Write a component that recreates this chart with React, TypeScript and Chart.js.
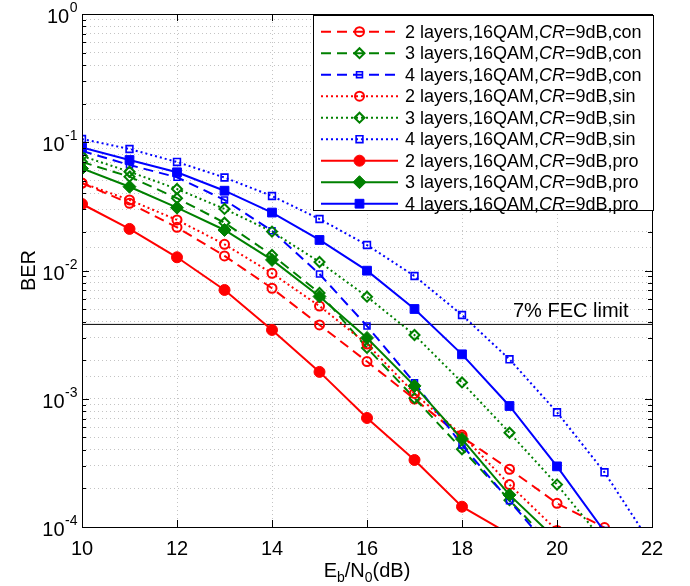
import React, { useEffect, useRef } from 'react';
import { Chart, registerables } from 'chart.js';

Chart.register(...registerables);

// ---- data ----
const snr = [10, 11, 12, 13, 14, 15, 16, 17, 18, 19, 20, 21, 22];

const redCon = [0.048, 0.0334, 0.0217, 0.013, 0.00727, 0.00376, 0.00195, 9.95e-4, 5.03e-4, 2.82e-4, 1.53e-4, 9.9e-5, null];
const greenCon = [0.0702, 0.0539, 0.0366, 0.0236, 0.0132, 0.00668, 0.00249, 1.01e-3, 4.04e-4, 1.62e-4, 6.6e-5, null, null];
const blueCon = [0.0855, 0.0665, 0.0533, 0.0355, 0.0204, 0.00939, 0.00369, 1.33e-3, 4.36e-4, 1.6e-4, 5.9e-5, null, null];
const redSin = [0.0481, 0.0355, 0.0248, 0.016, 0.00951, 0.00528, 0.00267, 1.1e-3, 5.21e-4, 2.14e-4, 9.4e-5, null, null];
const greenSin = [0.0781, 0.0589, 0.0432, 0.0302, 0.0201, 0.01165, 0.00625, 0.00314, 1.34e-3, 5.43e-4, 2.14e-4, 7.6e-5, null];
const blueSin = [0.106, 0.0886, 0.0702, 0.0531, 0.0381, 0.0252, 0.0158, 0.00906, 0.0045, 0.00203, 7.84e-4, 2.67e-4, 7.2e-5];
const redPro = [0.033, 0.0211, 0.01268, 0.00705, 0.00344, 0.00162, 7.08e-4, 3.33e-4, 1.44e-4, 8.8e-5, null, null, null];
const greenPro = [0.0624, 0.045, 0.0309, 0.0207, 0.0121, 0.00627, 0.00298, 1.26e-3, 4.85e-4, 1.78e-4, 7.9e-5, null, null];
const bluePro = [0.091, 0.0727, 0.0583, 0.0419, 0.0283, 0.0173, 0.00997, 0.00501, 0.00222, 8.78e-4, 2.97e-4, 9.2e-5, null];

const seriesLabels = [
  '2 layers,16QAM,CR=9dB,con',
  '3 layers,16QAM,CR=9dB,con',
  '4 layers,16QAM,CR=9dB,con',
  '2 layers,16QAM,CR=9dB,sin',
  '3 layers,16QAM,CR=9dB,sin',
  '4 layers,16QAM,CR=9dB,sin',
  '2 layers,16QAM,CR=9dB,pro',
  '3 layers,16QAM,CR=9dB,pro',
  '4 layers,16QAM,CR=9dB,pro',
];
const seriesValues = [redCon, greenCon, blueCon, redSin, greenSin, blueSin, redPro, greenPro, bluePro];

const xTickValues = [10, 12, 14, 16, 18, 20, 22];
const yDecades = [1e-4, 1e-3, 1e-2, 1e-1, 1];
const yDecadeExponents = ['-4', '-3', '-2', '-1', '0'];
const fecLimit = 0.0038;
const fecLabel = '7% FEC limit';
const yTitle = 'BER';

// ---- styles ----
const RED = '#ff0000';
const GREEN = '#008000';
const BLUE = '#0000ff';
const FONT = '"Liberation Sans", Arial, Helvetica, sans-serif';
const DASHED = [10, 6];
const DOTTED = [2, 3];
const CLEAR = 'rgba(0,0,0,0)';

type Style = { color: string; dash: number[]; marker: string; radius: number; filled: boolean; mlw: number };
const seriesStyles: Style[] = [
  { color: RED, dash: DASHED, marker: 'circle', radius: 4.5, filled: false, mlw: 2 },
  { color: GREEN, dash: DASHED, marker: 'rectRot', radius: 5, filled: false, mlw: 2 },
  { color: BLUE, dash: DASHED, marker: 'rect', radius: 4.2, filled: false, mlw: 1.6 },
  { color: RED, dash: DOTTED, marker: 'circle', radius: 4.5, filled: false, mlw: 2 },
  { color: GREEN, dash: DOTTED, marker: 'rectRot', radius: 5, filled: false, mlw: 2 },
  { color: BLUE, dash: DOTTED, marker: 'rect', radius: 4.8, filled: false, mlw: 1.6 },
  { color: RED, dash: [], marker: 'circle', radius: 5.5, filled: true, mlw: 1 },
  { color: GREEN, dash: [], marker: 'rectRot', radius: 6.5, filled: true, mlw: 1 },
  { color: BLUE, dash: [], marker: 'rect', radius: 6.2, filled: true, mlw: 1 },
];

function drawMarker(ctx: CanvasRenderingContext2D, s: Style, x: number, y: number) {
  const r = s.radius;
  ctx.beginPath();
  if (s.marker === 'circle') ctx.arc(x, y, r, 0, Math.PI * 2);
  else if (s.marker === 'rect') {
    const h = Math.SQRT1_2 * r;
    ctx.rect(x - h, y - h, 2 * h, 2 * h);
  } else {
    ctx.moveTo(x - r, y);
    ctx.lineTo(x, y - r);
    ctx.lineTo(x + r, y);
    ctx.lineTo(x, y + r);
    ctx.closePath();
  }
  ctx.setLineDash([]);
  if (s.filled) {
    ctx.fillStyle = s.color;
    ctx.fill();
  }
  ctx.lineWidth = s.mlw;
  ctx.strokeStyle = s.color;
  ctx.stroke();
}

const decorPlugin = {
  id: 'decor',
  afterDraw(chart: any) {
    const ctx: CanvasRenderingContext2D = chart.ctx;
    const xs = chart.scales.x;
    const ys = chart.scales.y;
    const { left, right, top, bottom } = chart.chartArea;
    ctx.save();
    ctx.setLineDash([]);
    ctx.strokeStyle = '#000';
    ctx.lineWidth = 1;

    // tick marks (inward)
    ctx.beginPath();
    for (let d = 0; d < yDecades.length; d++) {
      for (let m = 1; m <= 9; m++) {
        const v = yDecades[d] * m;
        if (v > 1.0000001) break;
        const y = Math.round(ys.getPixelForValue(v)) + 0.5;
        const len = m === 1 ? 7 : 4;
        ctx.moveTo(left, y);
        ctx.lineTo(left + len, y);
        ctx.moveTo(right, y);
        ctx.lineTo(right - len, y);
      }
    }
    for (const t of xTickValues) {
      const x = Math.round(xs.getPixelForValue(t)) + 0.5;
      ctx.moveTo(x, bottom);
      ctx.lineTo(x, bottom - 7);
      ctx.moveTo(x, top);
      ctx.lineTo(x, top + 7);
    }
    ctx.stroke();

    // frame
    ctx.strokeRect(Math.round(left) + 0.5, Math.round(top) + 0.5, Math.round(right - left), Math.round(bottom - top));

    ctx.fillStyle = '#000';
    // x tick labels
    ctx.font = `20px ${FONT}`;
    ctx.textAlign = 'center';
    ctx.textBaseline = 'alphabetic';
    for (const t of xTickValues) {
      ctx.fillText(String(t), xs.getPixelForValue(t), 555);
    }

    // y tick labels with superscript
    for (let i = 0; i < yDecades.length; i++) {
      const y = ys.getPixelForValue(yDecades[i]);
      ctx.font = `20px ${FONT}`;
      const w1 = ctx.measureText('10').width;
      ctx.font = `14px ${FONT}`;
      const w2 = ctx.measureText(yDecadeExponents[i]).width;
      const x0 = 77 - w1 - w2;
      ctx.textAlign = 'left';
      ctx.font = `20px ${FONT}`;
      ctx.fillText('10', x0, y + 9);
      ctx.font = `14px ${FONT}`;
      ctx.fillText(yDecadeExponents[i], x0 + w1 + 0.5, y - 2);
    }

    // y title
    ctx.save();
    ctx.translate(35, (top + bottom) / 2);
    ctx.rotate(-Math.PI / 2);
    ctx.font = `20px ${FONT}`;
    ctx.textAlign = 'center';
    ctx.fillText(yTitle, 0, 0);
    ctx.restore();

    // x title: E_b/N_0(dB)
    const parts: [string, boolean][] = [['E', false], ['b', true], ['/N', false], ['0', true], ['(dB)', false]];
    let total = 0;
    for (const [s, sub] of parts) {
      ctx.font = `${sub ? 14 : 20}px ${FONT}`;
      total += ctx.measureText(s).width;
    }
    let cx = (left + right) / 2 - total / 2;
    ctx.textAlign = 'left';
    for (const [s, sub] of parts) {
      ctx.font = `${sub ? 14 : 20}px ${FONT}`;
      ctx.fillText(s, cx, sub ? 582 : 577);
      cx += ctx.measureText(s).width;
    }

    // FEC label
    ctx.font = `20px ${FONT}`;
    ctx.textAlign = 'left';
    ctx.fillText(fecLabel, 513, 317);

    // legend
    const lx0 = 313, ly0 = 15, lx1 = 653, ly1 = 210;
    ctx.fillStyle = '#fff';
    ctx.fillRect(lx0, ly0, lx1 - lx0, ly1 - ly0);
    ctx.strokeStyle = '#000';
    ctx.lineWidth = 1;
    ctx.strokeRect(lx0 + 0.5, ly0 + 0.5, lx1 - lx0, ly1 - ly0);
    for (let i = 0; i < seriesLabels.length; i++) {
      const s = seriesStyles[i];
      const y = 31.7 + i * 21.5;
      ctx.beginPath();
      ctx.setLineDash(s.dash);
      ctx.lineWidth = 2;
      ctx.strokeStyle = s.color;
      ctx.moveTo(321, y);
      ctx.lineTo(398, y);
      ctx.stroke();
      drawMarker(ctx, s, 359.5, y);
      // text with italic CR
      const label = seriesLabels[i];
      const idx = label.indexOf('CR');
      const segs: [string, boolean][] = [
        [label.slice(0, idx), false],
        ['CR', true],
        [label.slice(idx + 2), false],
      ];
      let tx = 405;
      ctx.fillStyle = '#000';
      ctx.textBaseline = 'middle';
      for (const [str, it] of segs) {
        ctx.font = `${it ? 'italic ' : ''}18px ${FONT}`;
        ctx.fillText(str, tx, y + 1);
        tx += ctx.measureText(str).width;
      }
      ctx.textBaseline = 'alphabetic';
    }
    ctx.restore();
  },
};

export default function App() {
  const ref = useRef<HTMLCanvasElement | null>(null);
  useEffect(() => {
    if (!ref.current) return;
    const datasets: any[] = seriesValues.map((vals, i) => {
      const s = seriesStyles[i];
      return {
        label: seriesLabels[i],
        data: snr.map((x, k) => ({ x, y: vals[k] })),
        borderColor: s.color,
        borderWidth: 2,
        borderDash: s.dash,
        pointStyle: s.marker,
        pointRadius: s.radius,
        pointBorderWidth: s.mlw,
        pointBorderColor: s.color,
        pointBackgroundColor: s.filled ? s.color : CLEAR,
        backgroundColor: s.filled ? s.color : CLEAR,
        fill: false,
        tension: 0,
        spanGaps: false,
        order: 20 - i,
      };
    });
    datasets.push({
      label: 'FEC',
      data: [
        { x: snr[0], y: fecLimit },
        { x: snr[snr.length - 1], y: fecLimit },
      ],
      borderColor: '#000',
      borderWidth: 1,
      pointRadius: 0,
      fill: false,
      order: 30,
    });
    const chart = new Chart(ref.current, {
      type: 'line',
      data: { datasets },
      options: {
        animation: false,
        responsive: false,
        maintainAspectRatio: false,
        layout: { padding: { left: 0, right: 38, top: 14, bottom: 0 } },
        plugins: { legend: { display: false }, tooltip: { enabled: false } },
        scales: {
          x: {
            type: 'linear',
            min: 10,
            max: 22,
            ticks: { stepSize: 2, display: false },
            grid: { color: '#c4c4c4', lineWidth: 1, drawTicks: false },
            border: { display: false, dash: [1, 3] },
            afterFit: (s: any) => {
              s.height = 59;
            },
          },
          y: {
            type: 'logarithmic',
            min: 1e-4,
            max: 1,
            ticks: { display: false },
            grid: { color: '#c4c4c4', lineWidth: 1, drawTicks: false },
            border: { display: false, dash: [1, 3] },
            afterFit: (s: any) => {
              s.width = 82;
            },
          },
        },
      } as any,
      plugins: [decorPlugin],
    });
    return () => chart.destroy();
  }, []);
  return (
    <div style={{ position: 'absolute', left: 0, top: 0, width: 690, height: 586, background: '#fff' }}>
      <canvas ref={ref} width={690} height={586} style={{ display: 'block' }} />
    </div>
  );
}
